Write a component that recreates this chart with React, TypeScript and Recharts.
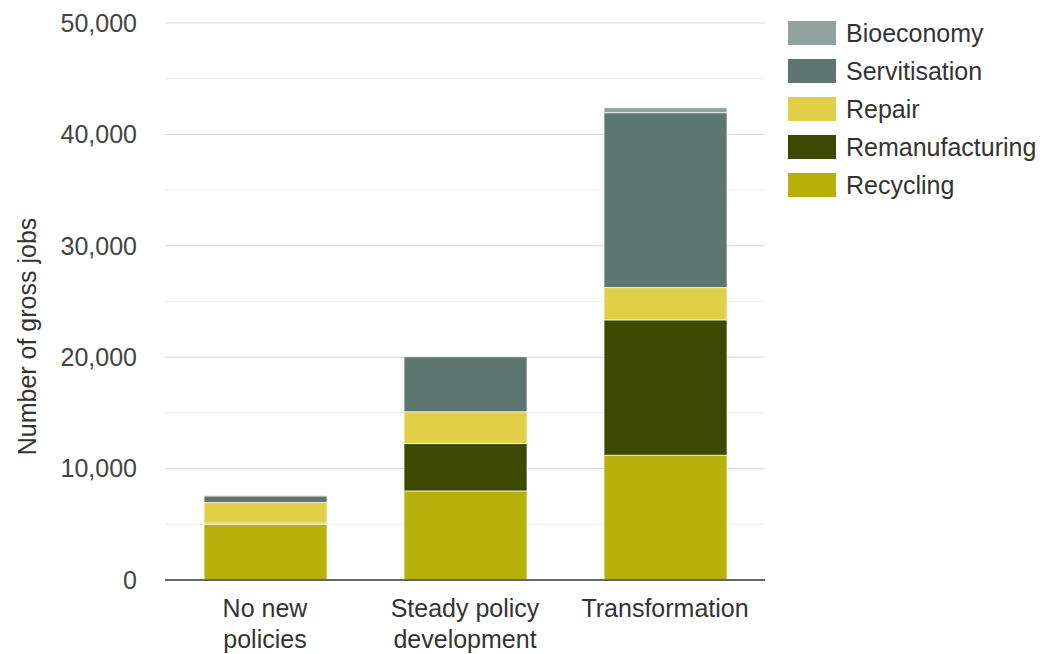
import React from "react";
import { Bar, BarChart, CartesianGrid, XAxis, YAxis } from "recharts";

const scenarios = ["No new policies", "Steady policy development", "Transformation"];
const scenarioTickLines = [["No new", "policies"], ["Steady policy", "development"], ["Transformation"]];
const recycling = [5000, 8000, 11200];
const remanufacturing = [100, 4250, 12150];
const repair = [1850, 2850, 2900];
const servitisation = [600, 4950, 15700];
const bioeconomy = [60, 50, 450];

const majorTicks = [0, 10000, 20000, 30000, 40000, 50000];
const minorTicks = [5000, 15000, 25000, 35000, 45000];

const series = [
  { key: "Recycling", values: recycling, color: "#b8b00a" },
  { key: "Remanufacturing", values: remanufacturing, color: "#3d4800" },
  { key: "Repair", values: repair, color: "#e1cf47" },
  { key: "Servitisation", values: servitisation, color: "#5d7670" },
  { key: "Bioeconomy", values: bioeconomy, color: "#90a39f" },
];

const data = scenarios.map((name, i) => {
  const row: Record<string, string | number> = { name };
  series.forEach((s) => (row[s.key] = s.values[i]));
  return row;
});

const font = "'Liberation Sans', Arial, sans-serif";

function XTick(props: any) {
  const { x, y, payload } = props;
  const lines = scenarioTickLines[scenarios.indexOf(payload.value)] || [payload.value];
  return (
    <text x={x} y={y + 29} textAnchor="middle" fontSize={25} fill="#333" fontFamily={font}>
      {lines.map((l: string, i: number) => (
        <tspan key={i} x={x} dy={i === 0 ? 0 : 31}>
          {l}
        </tspan>
      ))}
    </text>
  );
}

function LegendBox() {
  return (
    <div style={{ position: "absolute", left: 788, top: 14, fontFamily: font, fontSize: 25, color: "#333" }}>
      {[...series].reverse().map((s) => (
        <div key={s.key} style={{ display: "flex", alignItems: "center", height: 38 }}>
          <div style={{ width: 48, height: 24, background: s.color, marginRight: 10, flex: "none" }} />
          <span style={{ lineHeight: "38px" }}>{s.key}</span>
        </div>
      ))}
    </div>
  );
}

export default function App() {
  return (
    <div style={{ position: "absolute", left: 0, top: 0, width: 1052, height: 654, background: "#fff" }}>
      <BarChart width={1052} height={654} data={data} margin={{ top: 23, right: 287, bottom: 0, left: 0 }} barSize={123}>
        <CartesianGrid vertical={false} stroke="#ececec" horizontalValues={minorTicks} />
        <CartesianGrid vertical={false} stroke="#d4d4d4" horizontalValues={majorTicks} />
        <XAxis
          dataKey="name"
          height={74}
          interval={0}
          tickLine={false}
          axisLine={{ stroke: "#666", strokeWidth: 2 }}
          tick={<XTick />}
        />
        <YAxis
          width={165}
          domain={[0, 50000]}
          ticks={majorTicks}
          tickLine={false}
          axisLine={false}
          tickSize={0}
          tickMargin={28}
          tick={{ fontSize: 25, fill: "#444", fontFamily: font }}
          tickFormatter={(v: number) => v.toLocaleString("en-US")}
          label={{
            value: "Number of gross jobs",
            angle: -90,
            position: "insideLeft",
            dx: 22,
            dy: 35,
            style: { textAnchor: "middle", fontSize: 25, fill: "#333", fontFamily: font },
          }}
        />
        {series.map((s) => (
          <Bar
            key={s.key}
            dataKey={s.key}
            stackId="a"
            fill={s.color}
            stroke="#ffffff"
            strokeOpacity={0.7}
            strokeWidth={1}
            isAnimationActive={false}
          />
        ))}
      </BarChart>
      <LegendBox />
    </div>
  );
}
